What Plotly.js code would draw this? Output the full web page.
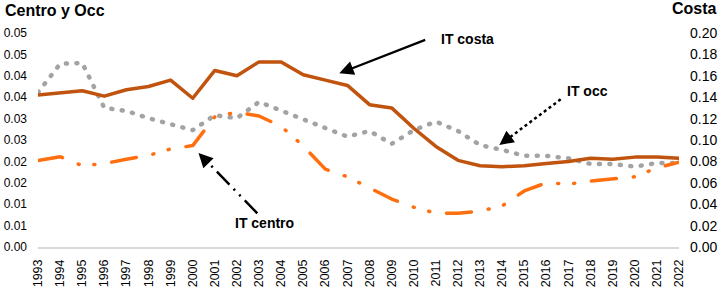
<!DOCTYPE html>
<html>
<head>
<meta charset="utf-8">
<script src="https://cdn.plot.ly/plotly-3.0.1.min.js"></script>
<style>html,body{margin:0;padding:0;background:#fff;}#chart{width:722px;height:288px;}</style>
</head>
<body>
<div id="chart"></div>
<script>
const years = ["1993","1994","1995","1996","1997","1998","1999","2000","2001","2002","2003","2004","2005","2006","2007","2008","2009","2010","2011","2012","2013","2014","2015","2016","2017","2018","2019","2020","2021","2022"];
const itCosta = [0.142,0.144,0.146,0.141,0.147,0.150,0.156,0.139,0.165,0.160,0.173,0.173,0.161,0.156,0.151,0.133,0.130,0.111,0.094,0.081,0.076,0.075,0.076,0.078,0.080,0.083,0.082,0.084,0.084,0.083];
const itOcc = [0.0361,0.0428,0.0430,0.0325,0.0318,0.0301,0.0287,0.0273,0.0308,0.0301,0.0339,0.0318,0.0299,0.0278,0.0258,0.0271,0.0241,0.0273,0.0293,0.0271,0.0238,0.0227,0.0213,0.0213,0.0207,0.0194,0.0194,0.0188,0.0196,0.0196];
const itCentro = [0.0202,0.0211,0.0190,0.0195,0.0205,0.0214,0.0229,0.0237,0.0304,0.0315,0.0306,0.0282,0.0236,0.0182,0.0164,0.0138,0.0112,0.0093,0.0079,0.0079,0.0084,0.0096,0.0131,0.0150,0.0147,0.0154,0.0159,0.0164,0.0185,0.0198];
const leftTickVals = [0,0.005,0.01,0.015,0.02,0.025,0.03,0.035,0.04,0.045,0.05];
const leftTickText = ["0.00","0.01","0.01","0.02","0.02","0.03","0.03","0.04","0.04","0.05","0.05"];
const rightTickVals = [0,0.02,0.04,0.06,0.08,0.10,0.12,0.14,0.16,0.18,0.20];
const rightTickText = ["0.00","0.02","0.04","0.06","0.08","0.10","0.12","0.14","0.16","0.18","0.20"];

const FONT = "Liberation Sans, Arial, sans-serif";

const data = [
  {x: years, y: itOcc, type: "scatter", mode: "lines", name: "IT occ", yaxis: "y",
   line: {color: "#A3A3A3", width: 4.5, dash: "1px,9.5px"}},
  {x: years, y: itCentro, type: "scatter", mode: "lines", name: "IT centro", yaxis: "y",
   line: {color: "#FF6F0F", width: 3.5, dash: "25px,17px,1px,15px,1px,17px"}},
  {x: years, y: itCosta, type: "scatter", mode: "lines", name: "IT costa", yaxis: "y2",
   line: {color: "#C0530E", width: 3.5}}
];

function px(x){ return (x-38)/641; }
function py(y){ return (247-y)/214; }

const layout = {
  width: 722, height: 288,
  margin: {l: 38, r: 43, t: 33, b: 41, pad: 0},
  paper_bgcolor: "#fff", plot_bgcolor: "#fff",
  showlegend: false,
  font: {family: FONT, color: "#000"},
  xaxis: {type: "category", showgrid: false, zeroline: false, showline: true,
    linecolor: "#D9D9D9", linewidth: 1.5, ticks: "", tickangle: -90,
    tickfont: {size: 12.5, family: FONT, color: "#000"}, ticklabelstandoff: 6},
  yaxis: {range: [0, 0.05], showgrid: false, zeroline: false, showline: false, ticks: "",
    tickvals: leftTickVals, ticktext: leftTickText,
    tickfont: {size: 12, family: FONT, color: "#000"}, ticklabelstandoff: 10},
  yaxis2: {range: [0, 0.2], overlaying: "y", side: "right", showgrid: false, zeroline: false,
    showline: false, ticks: "", tickvals: rightTickVals, ticktext: rightTickText,
    tickfont: {size: 14, family: FONT, color: "#000"}, ticklabelstandoff: 10},
  shapes: [
    {type: "line", xref: "paper", yref: "paper", x0: px(560.7), y0: py(99.3), x1: px(507), y1: py(139.5),
     line: {color: "#000", width: 2.5, dash: "dot"}},
    {type: "line", xref: "paper", yref: "paper", x0: px(257.3), y0: py(213.3), x1: px(207), y1: py(161.5),
     line: {color: "#000", width: 2.5, dash: "18px,6px,2px,6px,2px,6px"}}
  ],
  annotations: [
    {text: "<b>Centro y Occ</b>", xref: "paper", yref: "paper", x: px(3), y: py(10), xanchor: "left", yanchor: "middle",
     showarrow: false, font: {size: 16, family: FONT, color: "#000"}},
    {text: "<b>Costa</b>", xref: "paper", yref: "paper", x: px(719), y: py(9), xanchor: "right", yanchor: "middle",
     showarrow: false, font: {size: 16, family: FONT, color: "#000"}},
    {text: "<b>IT costa</b>", xref: "paper", yref: "paper", x: px(439), y: py(39.3), xanchor: "left", yanchor: "middle",
     showarrow: false, font: {size: 14, family: FONT, color: "#000"}},
    {text: "<b>IT occ</b>", xref: "paper", yref: "paper", x: px(565), y: py(90.7), xanchor: "left", yanchor: "middle",
     showarrow: false, font: {size: 14, family: FONT, color: "#000"}},
    {text: "<b>IT centro</b>", xref: "paper", yref: "paper", x: px(233), y: py(223.3), xanchor: "left", yanchor: "middle",
     showarrow: false, font: {size: 14, family: FONT, color: "#000"}},
    {text: "", xref: "paper", yref: "paper", x: px(339.3), y: py(73.3), ax: 87.4, ay: -34,
     showarrow: true, arrowhead: 2, arrowsize: 1.3, arrowwidth: 2.2, arrowcolor: "#000"},
    {text: "", xref: "paper", yref: "paper", x: px(499.3), y: py(145), ax: 10, ay: -7.5,
     showarrow: true, arrowhead: 2, arrowsize: 1.3, arrowwidth: 2.2, arrowcolor: "#000"},
    {text: "", xref: "paper", yref: "paper", x: px(198.5), y: py(153), ax: 11, ay: 11.3,
     showarrow: true, arrowhead: 2, arrowsize: 1.3, arrowwidth: 2.2, arrowcolor: "#000"}
  ]
};

Plotly.newPlot("chart", data, layout, {displayModeBar: false, staticPlot: true}).then(function(){
  document.querySelectorAll(".scatterlayer .trace path.js-line").forEach(function(p){
    p.style.strokeLinecap = "round";
    p.style.strokeLinejoin = "round";
  });
});
</script>
</body>
</html>
